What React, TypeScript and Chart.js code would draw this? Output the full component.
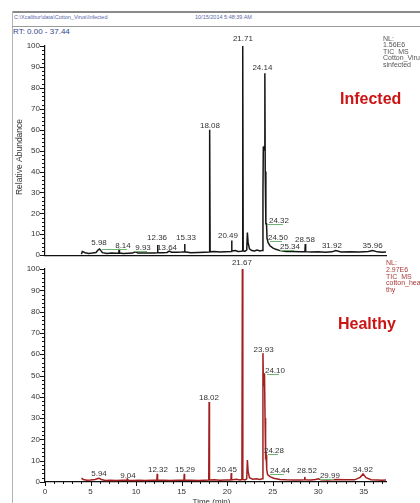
import { useEffect, useRef } from 'react';
import { Chart, registerables } from 'chart.js';

Chart.register(...registerables);

// ---------- data ----------
const RT_MIN = 0;
const RT_MAX = 37.44;
const xMajorTicks = [0, 5, 10, 15, 20, 25, 30, 35];
const yMajorTicks = [0, 10, 20, 30, 40, 50, 60, 70, 80, 90, 100];

// Infected (top) TIC trace: [time (min), relative abundance]
const infectedTrace: [number, number][] = [
  [4.0, 0.5], [4.1, 1.8], [4.4, 1.2], [4.8, 0.8], [5.2, 1.0], [5.6, 1.3], [5.85, 2.6], [5.98, 3.0],
  [6.1, 2.4], [6.3, 1.2], [6.8, 0.8], [7.3, 1.0], [7.8, 0.9], [8.1, 1.0], [8.14, 3.0], [8.18, 1.0],
  [8.6, 0.8], [9.2, 0.9], [9.6, 1.0], [9.93, 1.6], [10.2, 1.0], [10.8, 1.1], [11.5, 1.0], [12.0, 1.1],
  [12.32, 1.2], [12.36, 4.9], [12.4, 1.2], [12.9, 1.2], [13.4, 1.3], [13.64, 2.0], [13.9, 1.4],
  [14.5, 1.4], [15.0, 1.5], [15.29, 1.6], [15.33, 5.3], [15.37, 1.6], [16.0, 1.2], [16.8, 1.3],
  [17.5, 1.4], [18.03, 1.5], [18.08, 60], [18.13, 1.6], [18.6, 1.8], [19.2, 1.5], [19.8, 1.7],
  [20.45, 1.8], [20.49, 7.0], [20.53, 2.0], [20.9, 2.2], [21.2, 1.8], [21.5, 1.9], [21.66, 2.0],
  [21.71, 100], [21.76, 2.2], [21.95, 1.8], [22.15, 2.5], [22.22, 10.8], [22.3, 6], [22.45, 3.0],
  [22.7, 2.2], [23.0, 2.0], [23.3, 2.5], [23.6, 2.0], [23.85, 2.3], [23.93, 30], [23.97, 52],
  [24.03, 50], [24.08, 52], [24.14, 87], [24.18, 40], [24.25, 15], [24.32, 15], [24.38, 8], [24.5, 6],
  [24.7, 4.5], [25.0, 3.5], [25.34, 2.8], [25.8, 2.2], [26.5, 1.8], [27.2, 1.8], [28.0, 1.6],
  [28.54, 1.7], [28.58, 5.3], [28.62, 1.7], [29.2, 1.5], [30.0, 1.6], [30.8, 1.4], [31.5, 1.6],
  [31.92, 2.2], [32.5, 1.5], [33.5, 1.6], [34.5, 1.5], [35.5, 1.8], [35.96, 2.2], [36.5, 1.6],
  [37.0, 1.4], [37.44, 1.5],
];

// Healthy (bottom) TIC trace
const healthyTrace: [number, number][] = [
  [4.0, 1.8], [4.2, 1.2], [4.6, 0.8], [5.0, 0.9], [5.5, 1.2], [5.8, 1.6], [5.94, 1.7], [6.2, 1.2],
  [6.6, 0.7], [7.2, 0.8], [7.8, 0.7], [8.5, 0.8], [9.0, 0.9], [9.04, 1.4], [9.1, 0.8], [9.6, 0.7],
  [10.3, 0.8], [11.0, 0.7], [11.7, 0.8], [12.28, 0.8], [12.32, 3.8], [12.36, 0.8], [13.0, 0.8],
  [13.8, 0.7], [14.5, 0.8], [15.25, 0.8], [15.29, 3.8], [15.33, 0.8], [16.0, 0.8], [16.8, 0.7],
  [17.5, 0.8], [17.98, 0.9], [18.02, 37.6], [18.06, 0.9], [18.6, 1.0], [19.2, 0.8], [19.8, 0.9],
  [20.41, 0.9], [20.45, 4.2], [20.49, 1.0], [21.0, 1.3], [21.4, 1.0], [21.62, 1.1], [21.67, 100],
  [21.72, 1.2], [21.95, 1.0], [22.15, 1.5], [22.22, 10.3], [22.3, 5], [22.45, 2.0], [22.8, 1.3],
  [23.2, 1.5], [23.6, 1.2], [23.85, 1.5], [23.93, 60.5], [23.98, 45], [24.05, 48], [24.1, 51],
  [24.16, 30], [24.22, 12], [24.28, 12.7], [24.34, 6], [24.44, 3.5], [24.7, 2.5], [25.1, 1.8],
  [25.8, 1.2], [26.5, 1.0], [27.3, 0.9], [28.0, 0.9], [28.48, 1.0], [28.52, 2.4], [28.56, 1.0],
  [29.2, 0.9], [29.7, 1.2], [29.99, 1.5], [30.3, 1.1], [31.0, 0.9], [32.0, 1.2], [33.0, 1.0],
  [34.0, 1.0], [34.6, 2.2], [34.92, 3.8], [35.25, 2.0], [35.8, 1.1], [36.5, 0.9], [37.0, 0.8],
  [37.44, 0.9],
];

// Peak annotations: text, anchor time, anchor abundance, green leader start time (NaN = none)
const infectedLabelText = ['5.98', '8.14', '9.93', '12.36', '13.64', '15.33', '18.08', '20.49', '21.71', '24.14', '24.32', '24.50', '25.34', '28.58', '31.92', '35.96'];
const infectedLabelTime = [5.93, 8.56, 10.76, 12.3, 13.4, 15.48, 18.11, 20.09, 21.73, 23.87, 25.69, 25.58, 26.9, 28.54, 31.5, 35.97];
const infectedLabelValue = [4.7, 3.3, 2.4, 7.1, 2.4, 7.1, 61, 8.0, 102.4, 88.5, 15.6, 7.5, 2.8, 6.1, 3.5, 3.5];
const infectedLeaderFrom = [NaN, 6.26, 9.88, NaN, NaN, NaN, NaN, NaN, NaN, NaN, 24.37, 24.7, 25.8, NaN, NaN, NaN];

const healthyLabelText = ['5.94', '9.04', '12.32', '15.29', '18.02', '20.45', '21.67', '23.93', '24.10', '24.28', '24.44', '28.52', '29.99', '34.92'];
const healthyLabelTime = [5.93, 9.11, 12.4, 15.37, 18.0, 19.98, 21.62, 24.0, 25.25, 25.14, 25.8, 28.76, 31.28, 34.9];
const healthyLabelValue = [2.8, 1.9, 4.7, 4.8, 38.5, 4.7, 101.9, 61, 51.2, 13.6, 4.2, 4.2, 1.9, 4.7];
const healthyLeaderFrom = [NaN, NaN, NaN, NaN, NaN, NaN, NaN, NaN, 24.37, 24.48, 24.7, NaN, 30.19, NaN];

const FONT = '"Liberation Sans", Arial, Helvetica, sans-serif';

type PanelCfg = {
  trace: [number, number][];
  color: string;
  labelText: string[];
  labelTime: number[];
  labelValue: number[];
  leaderFrom: number[];
  showXLabels: boolean;
  padTop: number;
  xHeight: number;
  yTitle: boolean;
};

function makeDecor(cfg: PanelCfg) {
  return {
    id: 'decor',
    afterDraw(chart: any) {
      const ctx = chart.ctx as CanvasRenderingContext2D;
      const xs = chart.scales.x;
      const ys = chart.scales.y;
      const { left, bottom } = chart.chartArea;
      ctx.save();
      ctx.strokeStyle = '#111';
      ctx.lineWidth = 1;
      // y ticks (major every 10, minor every 2)
      for (let v = 0; v <= 100; v += 2) {
        const y = Math.round(ys.getPixelForValue(v)) + 0.5;
        const len = v % 10 === 0 ? 5 : 3;
        ctx.beginPath();
        ctx.moveTo(left - len, y);
        ctx.lineTo(left, y);
        ctx.stroke();
      }
      if (cfg.showXLabels) {
        for (let t = 0; t <= 37; t += 1) {
          const x = Math.round(xs.getPixelForValue(t)) + 0.5;
          const len = t % 5 === 0 ? 4 : 2;
          ctx.beginPath();
          ctx.moveTo(x, bottom);
          ctx.lineTo(x, bottom + len);
          ctx.stroke();
        }
        ctx.fillStyle = '#333';
        ctx.font = `8px ${FONT}`;
        ctx.textAlign = 'center';
        ctx.textBaseline = 'top';
        ctx.fillText('Time (min)', (xs.left + xs.right) / 2 - 4, 248);
      }
      // peak labels
      ctx.font = `8px ${FONT}`;
      ctx.textAlign = 'center';
      ctx.textBaseline = 'alphabetic';
      for (let i = 0; i < cfg.labelText.length; i++) {
        const x = xs.getPixelForValue(cfg.labelTime[i]);
        const y = ys.getPixelForValue(cfg.labelValue[i]);
        if (!isNaN(cfg.leaderFrom[i])) {
          const x0 = xs.getPixelForValue(cfg.leaderFrom[i]);
          ctx.strokeStyle = '#6fb46f';
          ctx.lineWidth = 1;
          ctx.beginPath();
          ctx.moveTo(x0, Math.round(y) + 1.5);
          ctx.lineTo(x + 4, Math.round(y) + 1.5);
          ctx.stroke();
        }
        ctx.fillStyle = '#333';
        ctx.fillText(cfg.labelText[i], x, y);
      }
      if (cfg.yTitle) {
        ctx.save();
        ctx.translate(20, 127);
        ctx.rotate(-Math.PI / 2);
        ctx.fillStyle = '#333';
        ctx.font = `8.5px ${FONT}`;
        ctx.textAlign = 'center';
        ctx.textBaseline = 'middle';
        ctx.fillText('Relative Abundance', 0, 0);
        ctx.restore();
      }
      ctx.restore();
    },
  };
}

function Panel({ cfg, top, height }: { cfg: PanelCfg; top: number; height: number }) {
  const ref = useRef<HTMLCanvasElement | null>(null);
  useEffect(() => {
    if (!ref.current) return;
    const chart = new Chart(ref.current, {
      type: 'line',
      data: {
        datasets: [
          {
            data: cfg.trace.map(([x, y]) => ({ x, y })),
            borderColor: cfg.color,
            borderWidth: 1.5,
            pointRadius: 0,
            tension: 0,
            fill: false,
          },
        ],
      },
      options: {
        responsive: false,
        animation: false,
        events: [],
        layout: { padding: { top: cfg.padTop, right: 34, left: 0, bottom: 0 } },
        plugins: { legend: { display: false }, tooltip: { enabled: false }, title: { display: false } },
        scales: {
          x: {
            type: 'linear',
            min: RT_MIN,
            max: RT_MAX,
            grid: { display: false, drawTicks: false },
            border: { display: true, color: '#111', width: 1.2 },
            ticks: {
              display: cfg.showXLabels,
              stepSize: 5,
              padding: 5,
              color: '#333',
              font: { size: 8, family: FONT },
              maxRotation: 0,
            },
            afterBuildTicks: (s: any) => {
              s.ticks = xMajorTicks.map((v) => ({ value: v }));
            },
            afterFit: (s: any) => {
              s.height = cfg.xHeight;
            },
          },
          y: {
            type: 'linear',
            min: 0,
            max: 100,
            grid: { display: false, drawTicks: false },
            border: { display: true, color: '#111', width: 1.2 },
            ticks: {
              stepSize: 10,
              padding: 5,
              color: '#333',
              font: { size: 8, family: FONT },
            },
            afterBuildTicks: (s: any) => {
              s.ticks = yMajorTicks.map((v) => ({ value: v }));
            },
            afterFit: (s: any) => {
              s.width = 45;
            },
          },
        },
      },
      plugins: [makeDecor(cfg)],
    });
    return () => chart.destroy();
  }, []);
  return (
    <canvas
      ref={ref}
      width={420}
      height={height}
      style={{ position: 'absolute', left: 0, top, width: 420, height, display: 'block' }}
    />
  );
}

const txt = (extra: any): any => ({
  position: 'absolute',
  fontFamily: FONT,
  lineHeight: 1,
  whiteSpace: 'nowrap',
  ...extra,
});

export default function App() {
  const topCfg: PanelCfg = {
    trace: infectedTrace,
    color: '#151515',
    labelText: infectedLabelText,
    labelTime: infectedLabelTime,
    labelValue: infectedLabelValue,
    leaderFrom: infectedLeaderFrom,
    showXLabels: false,
    padTop: 16,
    xHeight: 7,
    yTitle: true,
  };
  const bottomCfg: PanelCfg = {
    trace: healthyTrace,
    color: '#a21f1f',
    labelText: healthyLabelText,
    labelTime: healthyLabelTime,
    labelValue: healthyLabelValue,
    leaderFrom: healthyLeaderFrom,
    showXLabels: true,
    padTop: 19,
    xHeight: 21,
    yTitle: false,
  };
  return (
    <div
      style={{
        position: 'absolute',
        left: 0,
        top: 0,
        width: 420,
        height: 503,
        overflow: 'hidden',
        background: '#fff',
      }}
    >
      {/* frame */}
      <div style={{ position: 'absolute', left: 12, top: 11, width: 408, height: 2, background: '#8a8a8a' }} />
      <div style={{ position: 'absolute', left: 12, top: 11, width: 1, height: 492, background: '#b4b4b4' }} />
      <div style={{ position: 'absolute', left: 12, top: 26, width: 408, height: 1, background: '#9a9a9a' }} />
      <div style={txt({ left: 14, top: 15, fontSize: 5.5, color: '#5a66a8' })}>C:\Xcalibur\data\Cotton_Virus\Infected</div>
      <div style={txt({ left: 195, top: 15, fontSize: 5.5, color: '#5a66a8' })}>10/15/2014 5:48:39 AM</div>
      <div style={txt({ left: 13, top: 28, fontSize: 8, color: '#33448c' })}>RT: 0.00 - 37.44</div>

      <Panel cfg={topCfg} top={30} height={235} />
      <Panel cfg={bottomCfg} top={250} height={253} />

      {/* top annotations */}
      <div style={txt({ left: 383, top: 36, fontSize: 7, color: '#555', lineHeight: '6.4px' })}>
        NL:<br />1.56E6<br />TIC&nbsp;&nbsp;MS<br />Cotton_Virus<br />sinfected
      </div>
      <div style={txt({ left: 340, top: 91, fontSize: 16, fontWeight: 'bold', color: '#cc1414' })}>Infected</div>

      {/* bottom annotations */}
      <div style={txt({ left: 386, top: 260, fontSize: 7, color: '#a83a3a', lineHeight: '6.8px' })}>
        NL:<br />2.97E6<br />TIC&nbsp;&nbsp;MS<br />cotton_heal<br />thy
      </div>
      <div style={txt({ left: 338, top: 316, fontSize: 16, fontWeight: 'bold', color: '#cc1414' })}>Healthy</div>
    </div>
  );
}
